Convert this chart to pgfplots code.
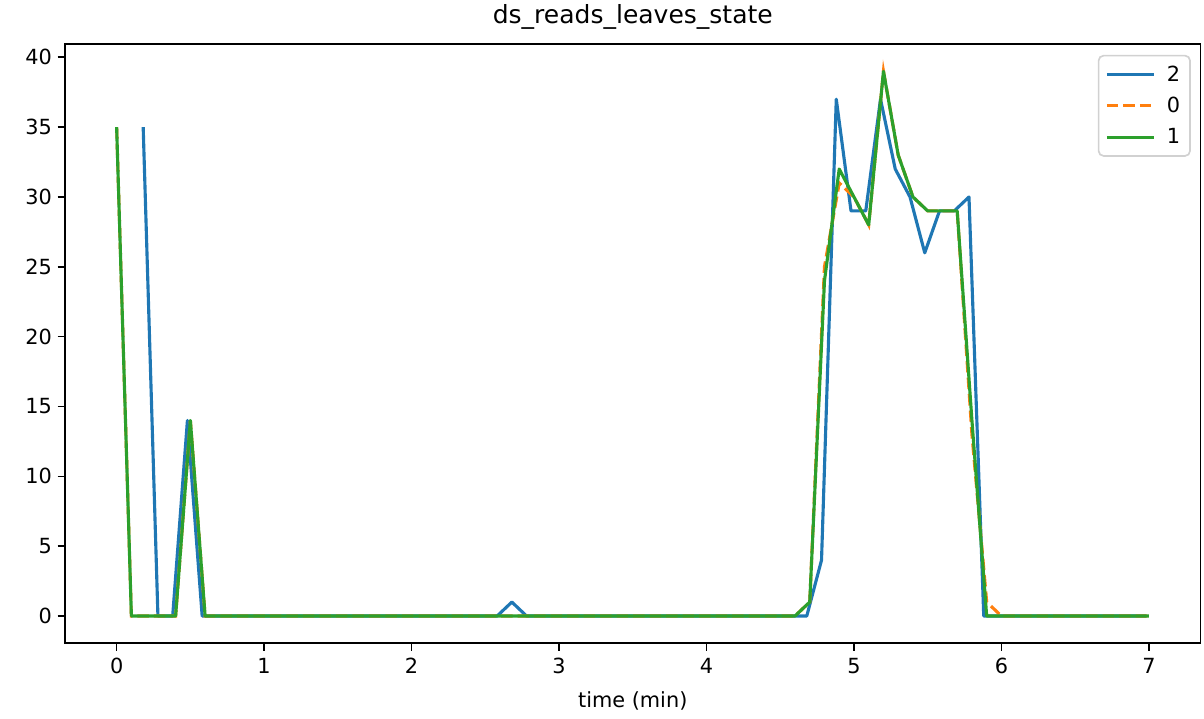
\documentclass[border=0pt]{standalone}
\usepackage{pgfplots}
\pgfplotsset{compat=1.18}
\usepackage{pgfplotstable}
\usepackage{fontspec}
\setmainfont{DejaVu Sans}
\definecolor{c0}{HTML}{1F77B4}
\definecolor{c1}{HTML}{FF7F0E}
\definecolor{c2}{HTML}{2CA02C}
\pgfplotstableread{
t y
0.18 35
0.28 0
0.38 0
0.48 14
0.58 0
0.68 0
1.08 0
1.58 0
2.08 0
2.58 0
2.68 1
2.78 0
3.28 0
3.78 0
4.28 0
4.68 0
4.78 4
4.88 37
4.98 29
5.08 29
5.18 37
5.28 32
5.38 30
5.48 26
5.58 29
5.68 29
5.78 30
5.88 0
5.98 0
6.48 0
6.98 0
}\blue
\pgfplotstableread{
t y
0.0 35
0.1 0
0.2 0
0.3 0
0.4 0
0.5 14
0.6 0
1.0 0
1.5 0
2.0 0
2.5 0
3.0 0
3.5 0
4.0 0
4.5 0
4.6 0
4.7 1
4.8 25
4.9 31
5.0 30
5.1 28
5.2 39
5.3 33
5.4 30
5.5 29
5.6 29
5.7 29
5.8 13
5.9 1
6.0 0
6.5 0
7.0 0
}\orange
\pgfplotstableread{
t y
0.0 35
0.1 0
0.2 0
0.3 0
0.4 0
0.5 14
0.6 0
1.0 0
1.5 0
2.0 0
2.5 0
3.0 0
3.5 0
4.0 0
4.5 0
4.6 0
4.7 1
4.8 24
4.9 32
5.0 30
5.1 28
5.2 39
5.3 33
5.4 30
5.5 29
5.6 29
5.7 29
5.8 14
5.9 0
6.0 0
6.5 0
7.0 0
}\green
\begin{document}
\begin{tikzpicture}
\begin{axis}[
  name=ax,
  scale only axis,
  width=681pt, height=359.4pt,
  xmin=-0.35, xmax=7.35,
  ymin=-1.95, ymax=40.95,
  xtick={0,1,2,3,4,5,6,7},
  ytick={0,5,10,15,20,25,30,35,40},
  tick align=outside,
  tick pos=left,
  major tick length=4.4pt,
  tick style={black, line width=1pt},
  axis line style={line width=1pt},
  /pgf/number format/assume math mode=true,
  tick label style={font=\fontsize{12.5}{15}\selectfont},
  xticklabel style={yshift=-1pt},
  title={ds\_reads\_leaves\_state},
  title style={font=\fontsize{15}{18}\selectfont, yshift=-1pt},
  xlabel={time (min)},
  xlabel style={font=\fontsize{12.5}{15}\selectfont, yshift=-4pt},
  legend style={at={(0.9915,0.982)}, anchor=north east, draw=black!18, line width=1pt, rounded corners=3pt, font=\fontsize{12.5}{15}\selectfont, row sep=4pt, column sep=5pt, inner xsep=4pt, inner ysep=4pt},
  legend cell align=left,
  legend image code/.code={\draw[#1] (0pt,0pt) -- (28pt,0pt);},
]
\addplot[c0, line width=1.875pt, line join=round] table[x=t,y=y] {\blue};
\addlegendentry{2}
\addplot[c1, line width=1.875pt, dash pattern=on 6.9pt off 3pt] table[x=t,y=y] {\orange};
\addlegendentry{0}
\addplot[c2, line width=1.875pt, line join=round] table[x=t,y=y] {\green};
\addlegendentry{1}
\end{axis}
\pgfresetboundingbox
\path ([xshift=-39pt,yshift=-45pt]ax.south west) rectangle ([xshift=2.1pt,yshift=26.4pt]ax.north east);
\end{tikzpicture}
\end{document}
